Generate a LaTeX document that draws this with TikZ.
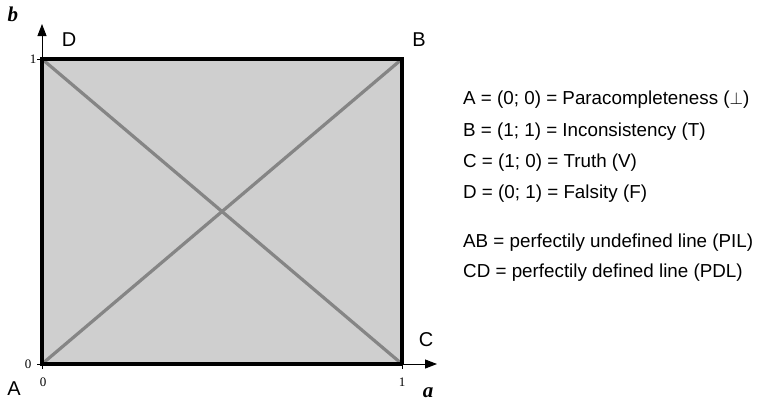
\documentclass[tikz,border=0pt]{standalone}
\usepackage{fontspec}
\setmainfont{Liberation Sans}
\newfontfamily\serifit{Liberation Serif}
\usetikzlibrary{arrows.meta}
\begin{document}
\begin{tikzpicture}[x=1pt,y=-1pt,
  lbl/.style={font=\fontsize{20}{24}\selectfont, inner sep=0pt},
  txt/.style={font=\fontsize{18.8}{22}\selectfont, anchor=west, inner sep=0pt},
  tick/.style={font=\serifit\fontsize{13}{15}\selectfont, inner sep=0pt},
  axlbl/.style={font=\serifit\bfseries\itshape\fontsize{21}{24}\selectfont, inner sep=0pt},
  axis/.style={line width=1pt, -{Triangle[length=12pt,width=9pt]}},
  border/.style={line width=3.6pt, black},
  diag/.style={line width=3.2pt, color=black!48}]
\useasboundingbox (0,0) rectangle (762,405);
\coordinate (A) at (42,364);
\coordinate (B) at (402,59);
\coordinate (C) at (402,364);
\coordinate (D) at (42,59);
\coordinate (ytop) at (42,24);
\coordinate (xend) at (437,364);
\fill[black!19] (A) rectangle (B);
\draw[diag] (A) -- (B);
\draw[diag] (D) -- (C);
\draw[border] (C) -- (A) -- (D) -- (B) -- (C);
\draw[axis] (A) -- (ytop);
\draw[axis] (A) -- (xend);
\draw[line width=0.7pt] (A) -- ++(-5,0) (A) -- ++(0,5) (D) -- ++(-5,0) (C) -- ++(0,5);
\node[tick] (t1) at (33,59) {1};
\node[tick] (t0y) at (28,364) {0};
\node[tick] (t0x) at (43,382) {0};
\node[tick] (t1x) at (402,382) {1};
\node[axlbl] (bl) at (13,14) {b};
\node[axlbl] (al) at (428,393) {a};
\node[lbl] (Dl) at (69,40) {D};
\node[lbl] (Bl) at (419,40) {B};
\node[lbl] (Cl) at (426,340) {C};
\node[lbl] (Al) at (14,389) {A};
\node[txt] (l1) at (463,100) {A = (0; 0) = Paracompleteness ($\perp$)};
\node[txt] (l2) at (463,132) {B = (1; 1) = Inconsistency (T)};
\node[txt] (l3) at (463,163) {C = (1; 0) = Truth (V)};
\node[txt] (l4) at (463,194) {D = (0; 1) = Falsity (F)};
\node[txt] (l5) at (463,243) {AB = perfectily undefined line (PIL)};
\node[txt] (l6) at (463,273) {CD = perfectily defined line (PDL)};
\end{tikzpicture}
\end{document}
